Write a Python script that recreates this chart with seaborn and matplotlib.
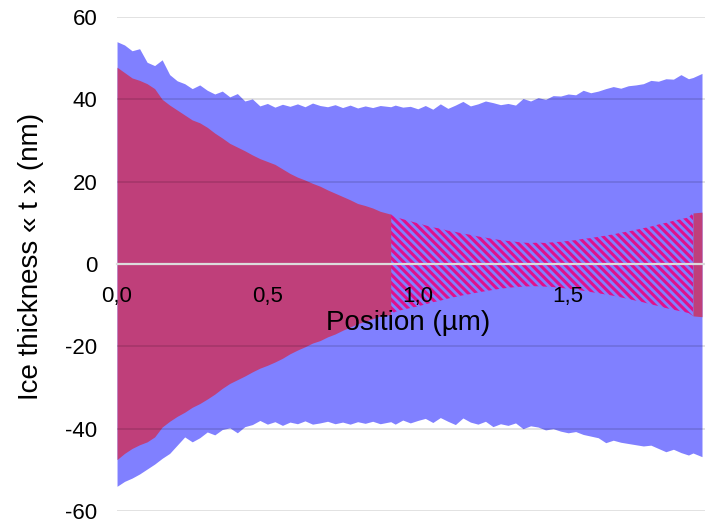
import matplotlib
matplotlib.use("Agg")
import matplotlib.pyplot as plt
import seaborn as sns
import numpy as np

# Position along the sample (µm)
position = [
    0.000, 0.025, 0.050, 0.075, 0.100, 0.125, 0.150, 0.175, 0.200, 0.225,
    0.250, 0.275, 0.300, 0.325, 0.350, 0.375, 0.400, 0.425, 0.450, 0.475,
    0.500, 0.525, 0.550, 0.575, 0.600, 0.625, 0.650, 0.675, 0.700, 0.725,
    0.750, 0.775, 0.800, 0.825, 0.850, 0.875, 0.910, 0.925, 0.950, 0.975,
    1.000, 1.025, 1.050, 1.075, 1.100, 1.125, 1.150, 1.175, 1.200, 1.225,
    1.250, 1.275, 1.300, 1.325, 1.350, 1.375, 1.400, 1.425, 1.450, 1.475,
    1.500, 1.525, 1.550, 1.575, 1.600, 1.625, 1.650, 1.675, 1.700, 1.725,
    1.750, 1.775, 1.800, 1.825, 1.850, 1.875, 1.900, 1.915, 1.945,
]

# outer ice envelope (blue)
outer_top = [
    54.0, 53.2, 51.8, 52.3, 49.0, 48.2, 49.6, 46.0, 44.5, 43.8,
    42.6, 43.5, 42.2, 41.3, 42.0, 40.6, 41.4, 39.6, 40.1, 38.4,
    39.0, 38.1, 38.8, 38.3, 38.9, 38.2, 39.1, 38.5, 38.2, 38.7,
    38.0, 38.6, 37.9, 38.4, 38.0, 38.5, 38.2, 38.6, 38.1, 38.3,
    37.7, 38.5, 37.6, 38.9, 37.8, 38.6, 39.5, 38.4, 38.9, 39.6,
    39.2, 38.7, 39.0, 38.6, 40.2, 39.6, 40.4, 40.0, 40.9, 40.8,
    41.3, 41.1, 42.2, 41.6, 42.0, 42.6, 43.1, 42.7, 43.3, 43.5,
    43.8, 44.6, 44.4, 45.0, 44.9, 46.0, 45.0, 45.3, 46.3,
]
outer_bottom = [
    -54.0, -52.8, -52.0, -51.0, -49.8, -48.6, -47.2, -46.0, -44.0, -42.0,
    -43.2, -42.2, -40.8, -41.5, -40.2, -39.8, -41.0, -39.5, -39.0, -38.0,
    -38.9, -38.3, -39.2, -38.4, -38.8, -38.1, -38.9, -38.6, -38.2, -38.8,
    -38.4, -38.9, -38.3, -38.7, -38.2, -38.8, -38.3, -38.9, -37.9, -38.6,
    -38.0, -37.5, -38.5, -37.3, -38.2, -39.0, -37.4, -38.4, -38.9, -38.2,
    -39.5, -38.8, -39.2, -38.6, -40.0, -39.3, -39.6, -40.3, -40.0, -40.6,
    -41.0, -40.7, -41.4, -41.8, -42.2, -43.4, -42.8, -43.3, -43.6, -43.9,
    -44.2, -44.0, -44.8, -45.6, -45.0, -45.8, -46.4, -45.9, -46.8,
]

# inner envelope (red / hatched)
inner_top = [
    47.8, 46.5, 45.2, 44.6, 43.8, 42.6, 40.0, 38.6, 37.4, 36.2,
    35.0, 34.3, 33.2, 31.8, 30.6, 29.3, 28.4, 27.5, 26.5, 25.6,
    24.9, 24.2, 23.1, 22.0, 21.1, 20.4, 19.6, 18.9, 18.0, 17.2,
    16.4, 15.6, 14.7, 14.2, 13.6, 12.8, 12.1, 11.4, 10.9, 10.4,
    9.9, 9.4, 8.9, 8.6, 8.1, 7.8, 7.4, 7.1, 6.7, 6.4,
    6.1, 5.8, 5.6, 5.4, 5.2, 5.1, 5.2, 5.1, 5.3, 5.4,
    5.6, 5.8, 6.1, 6.3, 6.6, 6.9, 7.2, 7.6, 7.9, 8.3,
    8.7, 9.1, 9.6, 10.0, 10.5, 10.9, 11.3, 12.4, 12.6,
]
inner_bottom = [
    -47.5, -46.0, -44.8, -43.9, -43.2, -42.0, -39.6, -38.2, -37.0, -36.0,
    -34.8, -33.9, -32.8, -31.6, -30.2, -29.0, -28.1, -27.2, -26.2, -25.3,
    -24.6, -23.8, -22.9, -21.8, -20.9, -20.1, -19.2, -18.6, -17.7, -17.0,
    -16.1, -15.3, -14.5, -13.9, -13.3, -12.6, -12.3, -11.6, -11.1, -10.7,
    -10.3, -9.8, -9.3, -8.9, -8.4, -8.0, -7.6, -7.3, -6.9, -6.6,
    -6.3, -6.0, -5.8, -5.6, -5.5, -5.4, -5.4, -5.5, -5.6, -5.8,
    -6.0, -6.2, -6.5, -6.8, -7.1, -7.4, -7.7, -8.1, -8.5, -8.9,
    -9.3, -9.8, -10.2, -10.7, -11.1, -11.5, -11.9, -12.6, -12.8,
]

# hatched zone limits (µm)
hatch_start = 0.91
hatch_end = 1.915

x_ticks = [0.0, 0.5, 1.0, 1.5]
x_tick_labels = ["0,0", "0,5", "1,0", "1,5"]
y_ticks = [-60, -40, -20, 0, 20, 40, 60]

sns.set_theme(style="white")
plt.rcParams["font.family"] = ["Liberation Sans", "DejaVu Sans"]
plt.rcParams["hatch.linewidth"] = 2.2

x = np.array(position)
fig = plt.figure(figsize=(7.05, 5.23), dpi=100)
ax = fig.add_axes([0.166, 0.0229, 0.834, 0.9446])

ax.fill_between(x, outer_bottom, outer_top, color="#8080FF", linewidth=0, zorder=1)

left = x <= hatch_start
right = x >= hatch_end
mid = (x >= hatch_start) & (x <= hatch_end)
for m in (left, right):
    ax.fill_between(x, inner_bottom, inner_top, where=m, color="#BF3F7A",
                    linewidth=0, zorder=1.2)
ax.fill_between(x, inner_bottom, inner_top, where=mid, facecolor="#8080FF",
                edgecolor="#E0108C", hatch="\\" * 4, linewidth=0, zorder=1.1)

ax.set_xlim(0, 1.955)
ax.set_ylim(-60, 60)
ax.set_yticks(y_ticks)
ax.set_yticklabels([str(v) for v in y_ticks])
ax.set_xticks(x_ticks)
ax.set_xticklabels(x_tick_labels)

ax.set_axisbelow(False)
ax.yaxis.grid(True, color="black", alpha=0.15, linewidth=1.1)
ax.xaxis.grid(False)

sns.despine(ax=ax, left=True)
ax.spines["bottom"].set_position(("data", 0))
ax.spines["bottom"].set_color("#DCDCDC")
ax.spines["bottom"].set_linewidth(1.6)
ax.spines["bottom"].set_zorder(3)

ax.tick_params(axis="x", direction="out", length=4.5, width=1.2,
               color="#DCDCDC", pad=11, labelsize=16, labelcolor="black")
ax.tick_params(axis="y", length=0, pad=14, labelsize=16, labelcolor="black")

ax.set_xlabel("Position (µm)", fontsize=20, color="black")
ax.xaxis.set_label_coords(0.495, 0.407)
ax.set_ylabel("Ice thickness « t » (nm)", fontsize=20, color="black")
ax.yaxis.set_label_coords(-0.124, 0.516)

fig.savefig("out.png", dpi=100)
plt.close(fig)
